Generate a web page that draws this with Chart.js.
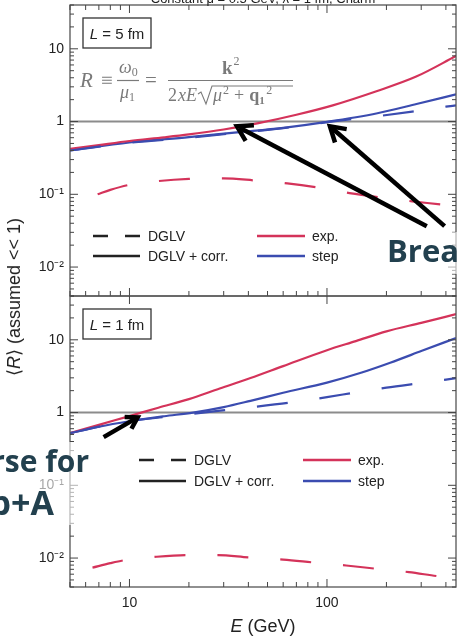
<!DOCTYPE html>
<html>
<head>
<meta charset="utf-8">
<script src="https://cdn.jsdelivr.net/npm/chart.js@4.4.1/dist/chart.umd.min.js"></script>
<style>
  html, body { margin: 0; padding: 0; background: #fff; }
  #wrap { position: relative; width: 457px; height: 640px; overflow: hidden; font-family: "Liberation Sans", Arial, sans-serif; color: #222; }
  canvas { position: absolute; left: 0; }
  #topCanvas { top: 0; }
  #botCanvas { top: 290px; }
  .ytitle { position: absolute; left: 14px; top: 297px; transform: translate(-50%, -50%) rotate(-90deg); white-space: nowrap; font-size: 18px; }
  .xtitle { position: absolute; left: 263px; top: 626px; transform: translate(-50%, -50%); white-space: nowrap; font-size: 18px; }
</style>
</head>
<body>
<div id="wrap">
  <canvas id="topCanvas" width="457" height="300"></canvas>
  <canvas id="botCanvas" width="457" height="350"></canvas>
  <div class="ytitle">⟨<i>R</i>⟩ (assumed &lt;&lt; 1)</div>
  <div class="xtitle"><i>E</i> (GeV)</div>
</div>
<script>
// axis ranges
const eRange = [5, 450];
const rRange = [0.004, 40];
const unity = [1, 1];

// L = 5 fm panel
const eTopExpCorr = [5, 7, 10, 15, 20, 30, 45, 70, 107, 178, 283, 450];
const rTopExpCorr = [0.42, 0.475, 0.54, 0.607, 0.665, 0.777, 0.951, 1.24, 1.67, 2.61, 4.15, 7.95];
const eTopStepCorr = [5, 10, 20, 35, 60, 100, 180, 284, 450];
const rTopStepCorr = [0.40, 0.515, 0.61, 0.71, 0.82, 0.99, 1.3, 1.74, 2.37];
const eTopStep = [5, 10, 20, 35, 60, 100, 130, 178, 270, 400, 450];
const rTopStep = [0.40, 0.51, 0.60, 0.70, 0.81, 0.98, 1.07, 1.18, 1.37, 1.6, 1.67];
const eTopExp = [6.9, 8, 10, 14, 20, 30, 43, 63, 90, 130, 190, 270, 400, 450];
const rTopExp = [0.10, 0.115, 0.135, 0.152, 0.163, 0.166, 0.155, 0.141, 0.124, 0.104, 0.09, 0.08, 0.071, 0.068];

// L = 1 fm panel
const eBotExpCorr = [5, 7, 10, 14, 20, 28, 41, 60, 100, 140, 200, 300, 450];
const rBotExpCorr = [0.52, 0.678, 0.893, 1.165, 1.53, 2.09, 2.98, 4.35, 7.2, 9.6, 13.07, 17.1, 22.5];
const eBotStepCorr = [5, 7, 10, 15, 21, 30, 41, 60, 100, 150, 209, 300, 450];
const rBotStepCorr = [0.52, 0.64, 0.76, 0.89, 1.0, 1.19, 1.45, 1.87, 2.58, 3.55, 4.84, 7.0, 10.6];
const eBotStep = [5, 7, 10, 15, 20, 28.8, 40, 63.7, 100, 141, 200, 318, 450];
const rBotStep = [0.52, 0.64, 0.76, 0.87, 0.95, 1.06, 1.17, 1.36, 1.63, 1.9, 2.2, 2.6, 2.97];
const eBotExp = [6.5, 8, 10, 13, 20, 28, 40, 60, 85, 125, 180, 260, 370, 450];
const rBotExp = [0.0074, 0.0085, 0.0096, 0.0103, 0.011, 0.011, 0.0102, 0.0095, 0.0087, 0.0079, 0.0071, 0.0064, 0.0056, 0.0053];

const RED = '#d4335a';
const BLUE = '#3b4cb0';
const INK = '#222';
const SANS = '"Liberation Sans", Arial, sans-serif';
const SERIF = '"Liberation Serif", "DejaVu Serif", serif';
const SLIDE = '"Open Sans", "DejaVu Sans", sans-serif';

function pts(es, rs) {
  return es.map((e, i) => ({ x: e, y: rs[i] }));
}

function lineSet(label, es, rs, color, dashed) {
  return {
    label,
    data: pts(es, rs),
    borderColor: color,
    borderWidth: 2.2,
    borderDash: dashed ? [31, 32] : [],
    pointRadius: 0,
    cubicInterpolationMode: 'monotone',
    fill: false,
    order: 1,
  };
}

function isDecade(v) {
  const lg = Math.log10(v);
  return Math.abs(lg - Math.round(lg)) < 1e-6;
}

function logMarks(min, max) {
  const out = [];
  for (let e = Math.floor(Math.log10(min)); e <= Math.ceil(Math.log10(max)); e++) {
    for (let m = 1; m < 10; m++) {
      const v = m * Math.pow(10, e);
      if (v >= min * 0.999 && v <= max * 1.001) out.push({ v, major: m === 1 });
    }
  }
  return out;
}

function seg(ctx, x1, y1, x2, y2) {
  ctx.beginPath();
  ctx.moveTo(x1, y1);
  ctx.lineTo(x2, y2);
  ctx.stroke();
}

function drawArrow(ctx, x1, y1, x2, y2, head) {
  const ang = Math.atan2(y2 - y1, x2 - x1);
  ctx.strokeStyle = '#000';
  ctx.lineWidth = 4.5;
  ctx.lineCap = 'butt';
  ctx.lineJoin = 'miter';
  seg(ctx, x1, y1, x2 - 3 * Math.cos(ang), y2 - 3 * Math.sin(ang));
  ctx.beginPath();
  ctx.moveTo(x2 - head * Math.cos(ang - 0.55), y2 - head * Math.sin(ang - 0.55));
  ctx.lineTo(x2, y2);
  ctx.lineTo(x2 - head * Math.cos(ang + 0.55), y2 - head * Math.sin(ang + 0.55));
  ctx.stroke();
}

function drawFormula(ctx) {
  ctx.fillStyle = '#7a7a7a';
  ctx.strokeStyle = '#7a7a7a';
  ctx.textAlign = 'left';
  ctx.textBaseline = 'alphabetic';
  const put = (t, font, x, y) => {
    ctx.font = font;
    ctx.fillText(t, x, y);
    return x + ctx.measureText(t).width;
  };
  put('R', `italic 21px ${SERIF}`, 80, 87);
  put('≡', `21px ${SERIF}`, 101, 87);
  // omega_0 / mu_1
  let x = put('ω', `italic 18px ${SERIF}`, 119, 73);
  put('0', `12px ${SERIF}`, x, 76);
  x = put('μ', `italic 18px ${SERIF}`, 120, 98);
  put('1', `12px ${SERIF}`, x, 101);
  ctx.lineWidth = 1.2;
  seg(ctx, 117, 80.5, 139, 80.5);
  put('=', `21px ${SERIF}`, 145, 87);
  // k^2 / (2xE sqrt(mu^2 + q1^2))
  seg(ctx, 168, 80.5, 293, 80.5);
  x = put('k', `bold 19px ${SERIF}`, 222, 74);
  put('2', `12px ${SERIF}`, x + 1, 65);
  x = put('2', `18px ${SERIF}`, 168, 101);
  x = put('xE', `italic 18px ${SERIF}`, x + 1, 101);
  ctx.lineWidth = 1.1;
  ctx.beginPath();
  ctx.moveTo(x + 1, 94);
  ctx.lineTo(x + 4, 92);
  ctx.lineTo(x + 9, 104);
  ctx.lineTo(x + 15, 86);
  ctx.lineTo(293, 86);
  ctx.stroke();
  x = put('μ', `italic 18px ${SERIF}`, x + 16, 101);
  x = put('2', `12px ${SERIF}`, x + 1, 94);
  x = put('+', `18px ${SERIF}`, x + 5, 101);
  x = put('q', `bold 18px ${SERIF}`, x + 5, 101);
  put('1', `bold 11px ${SERIF}`, x, 104);
  put('2', `12px ${SERIF}`, x + 7, 94);
}

const decor = {
  id: 'decor',
  afterDraw(chart, args, o) {
    const ctx = chart.ctx;
    const a = chart.chartArea;
    const xs = chart.scales.x;
    const ys = chart.scales.y;
    ctx.save();

    // frame
    ctx.strokeStyle = '#555';
    ctx.lineWidth = 1.3;
    ctx.strokeRect(a.left, a.top, a.right - a.left, a.bottom - a.top);

    // inward ticks
    ctx.lineWidth = 1;
    ctx.strokeStyle = '#444';
    logMarks(eRange[0], eRange[1]).forEach(m => {
      const px = xs.getPixelForValue(m.v);
      const len = m.major ? 8 : 5;
      seg(ctx, px, a.bottom, px, a.bottom - len);
      if (o.topTicks === 'all' || (o.topTicks === 'major' && m.major)) {
        seg(ctx, px, a.top, px, a.top + len);
      }
    });
    logMarks(rRange[0], rRange[1]).forEach(m => {
      const py = ys.getPixelForValue(m.v);
      const len = m.major ? 8 : 4;
      seg(ctx, a.left, py, a.left + len, py);
      seg(ctx, a.right, py, a.right - len, py);
    });

    // panel label box
    const bx = a.left + 13, by = a.top + 13, bw = 68, bh = 30;
    ctx.lineWidth = 1.3;
    ctx.strokeStyle = '#333';
    ctx.strokeRect(bx, by, bw, bh);
    ctx.fillStyle = INK;
    ctx.textBaseline = 'alphabetic';
    ctx.textAlign = 'left';
    ctx.font = `italic 15px ${SANS}`;
    const wL = ctx.measureText('L').width;
    ctx.font = `15px ${SANS}`;
    const rest = ` = ${o.length} fm`;
    const wR = ctx.measureText(rest).width;
    const tx = bx + (bw - wL - wR) / 2;
    ctx.font = `italic 15px ${SANS}`;
    ctx.fillText('L', tx, by + 21);
    ctx.font = `15px ${SANS}`;
    ctx.fillText(rest, tx + wL, by + 21);

    // legend
    const lg = o.legend;
    const r1 = a.top + lg.row1, r2 = a.top + lg.row2;
    ctx.lineWidth = 2.4;
    ctx.strokeStyle = INK;
    ctx.setLineDash([15, 17]);
    seg(ctx, lg.x1, r1, lg.x1 + 47, r1);
    ctx.setLineDash([]);
    seg(ctx, lg.x1, r2, lg.x1 + 47, r2);
    ctx.strokeStyle = RED;
    seg(ctx, lg.x2, r1, lg.x2 + 48, r1);
    ctx.strokeStyle = BLUE;
    seg(ctx, lg.x2, r2, lg.x2 + 48, r2);
    ctx.fillStyle = INK;
    ctx.font = `14px ${SANS}`;
    ctx.textBaseline = 'middle';
    ctx.fillText('DGLV', lg.x1 + 55, r1 + 1);
    ctx.fillText('DGLV + corr.', lg.x1 + 55, r2 + 1);
    ctx.fillText('exp.', lg.x2 + 55, r1 + 1);
    ctx.fillText('step', lg.x2 + 55, r2 + 1);

    if (o.formula) drawFormula(ctx);

    if (o.title) {
      ctx.fillStyle = INK;
      ctx.font = `13px ${SANS}`;
      ctx.textAlign = 'center';
      ctx.textBaseline = 'alphabetic';
      ctx.fillText(o.title, (a.left + a.right) / 2, 3);
    }

    // overlaid arrows
    (o.arrows || []).forEach(ar => {
      drawArrow(ctx,
        xs.getPixelForValue(ar.from[0]), ys.getPixelForValue(ar.from[1]),
        xs.getPixelForValue(ar.to[0]), ys.getPixelForValue(ar.to[1]), ar.head);
    });

    // overlaid slide text
    (o.slide || []).forEach(s => {
      ctx.fillStyle = 'rgba(255,255,255,0.6)';
      ctx.fillRect(s.box[0], s.box[1], s.box[2], s.box[3]);
      ctx.fillStyle = '#22404e';
      ctx.textBaseline = 'alphabetic';
      s.lines.forEach(l => {
        ctx.font = `bold ${l.size}px ${SLIDE}`;
        ctx.textAlign = l.align;
        ctx.fillText(l.text, l.x, l.y);
      });
    });

    ctx.restore();
  }
};

function buildConfig(sets, opts) {
  return {
    type: 'line',
    data: {
      datasets: [
        {
          label: 'R = 1',
          data: pts(eRange, unity),
          borderColor: '#8c8c8c',
          borderWidth: 2,
          pointRadius: 0,
          order: 5,
        },
        lineSet('DGLV exp.', sets.expE, sets.expR, RED, true),
        lineSet('DGLV step', sets.stepE, sets.stepR, BLUE, true),
        lineSet('DGLV + corr. exp.', sets.expCorrE, sets.expCorrR, RED, false),
        lineSet('DGLV + corr. step', sets.stepCorrE, sets.stepCorrR, BLUE, false),
      ],
    },
    options: {
      responsive: false,
      devicePixelRatio: 1,
      animation: false,
      layout: { padding: opts.padding },
      plugins: {
        legend: { display: false },
        tooltip: { enabled: false },
        decor: opts.decor,
      },
      scales: {
        x: {
          type: 'logarithmic',
          min: eRange[0],
          max: eRange[1],
          display: opts.showX,
          grid: { display: false, drawTicks: false },
          border: { display: false },
          ticks: {
            autoSkip: false,
            maxRotation: 0,
            padding: 8,
            color: INK,
            font: { family: SANS, size: 14 },
            callback: v => (isDecade(v) ? String(Math.round(v)) : ''),
          },
          afterFit: s => {
            s.height = opts.xHeight;
            s.paddingLeft = 0;
            s.paddingRight = 0;
          },
        },
        y: {
          type: 'logarithmic',
          min: rRange[0],
          max: rRange[1],
          grid: { display: false, drawTicks: false },
          border: { display: false },
          ticks: {
            autoSkip: false,
            padding: 6,
            color: INK,
            font: { family: SANS, size: 14 },
            callback: v => {
              if (!isDecade(v)) return '';
              const p = Math.round(Math.log10(v));
              if (p === 0) return '1';
              if (p === 1) return '10';
              return '10⁻' + (p === -1 ? '¹' : '²');
            },
          },
          afterFit: s => {
            s.width = 70;
            s.paddingTop = 0;
            s.paddingBottom = 0;
          },
        },
      },
    },
    plugins: [decor],
  };
}

new Chart(document.getElementById('topCanvas'), buildConfig(
  {
    expE: eTopExp, expR: rTopExp,
    stepE: eTopStep, stepR: rTopStep,
    expCorrE: eTopExpCorr, expCorrR: rTopExpCorr,
    stepCorrE: eTopStepCorr, stepCorrR: rTopStepCorr,
  },
  {
    padding: { top: 5, right: 1, bottom: 4, left: 0 },
    showX: false,
    xHeight: 0,
    decor: {
      length: 5,
      topTicks: 'all',
      formula: true,
      title: 'Constant μ = 0.5 GeV, λ = 1 fm, Charm',
      legend: { row1: 231, row2: 251, x1: 93, x2: 257 },
      arrows: [
        { from: [320, 0.0365], to: [35, 0.86], head: 17 },
        { from: [394, 0.0365], to: [103.5, 0.86], head: 17 },
      ],
      slide: [
        { box: [380, 232, 77, 42], lines: [{ text: 'Breat', x: 387, y: 262, align: 'left', size: 31 }] },
      ],
    },
  }
));

new Chart(document.getElementById('botCanvas'), buildConfig(
  {
    expE: eBotExp, expR: rBotExp,
    stepE: eBotStep, stepR: rBotStep,
    expCorrE: eBotExpCorr, expCorrR: rBotExpCorr,
    stepCorrE: eBotStepCorr, stepCorrR: rBotStepCorr,
  },
  {
    padding: { top: 6, right: 1, bottom: 0, left: 0 },
    showX: true,
    xHeight: 53,
    decor: {
      length: 1,
      topTicks: 'major',
      formula: false,
      legend: { row1: 164, row2: 185, x1: 139, x2: 303 },
      arrows: [
        { from: [7.4, 0.46], to: [11, 0.86], head: 13 },
      ],
      slide: [
        {
          box: [0, 152, 92, 83],
          lines: [
            { text: 'rse for', x: 89, y: 182, align: 'right', size: 30 },
            { text: 'p+A', x: 54, y: 225, align: 'right', size: 34 },
          ],
        },
      ],
    },
  }
));
</script>
</body>
</html>
